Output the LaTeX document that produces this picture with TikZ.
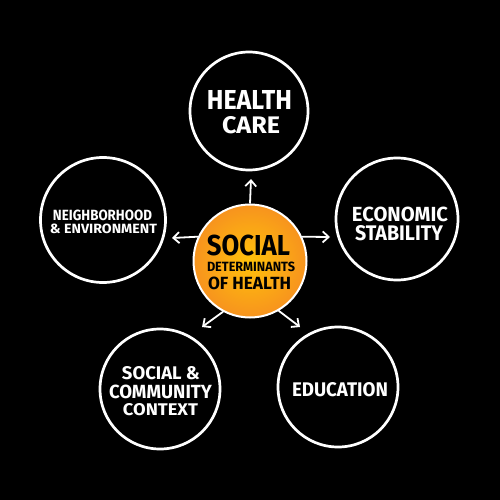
\documentclass[tikz,border=0pt]{standalone}
\usepackage{fontspec}
\setmainfont{Fira Sans}
\usepackage{graphicx}
\usetikzlibrary{arrows.meta}
\definecolor{orIn}{HTML}{FFC20A}
\definecolor{orOut}{HTML}{F7931E}
\newcommand{\fitt}[3]{\resizebox{#1pt}{#2pt}{\bfseries #3}}
\begin{document}
\begin{tikzpicture}[x=1pt,y=-1pt,
  ring/.style={circle,draw=white,line width=2.7pt,inner sep=0pt},
  hub/.style={circle,draw=white,line width=2pt,inner sep=0pt,inner color=orIn,outer color=orOut},
  wlabel/.style={inner sep=0pt,text=white},
  blabel/.style={inner sep=0pt,text=black},
  arr/.style={draw=white,line width=1.8pt,-{Straight Barb[length=6pt,width=11pt,line width=1.8pt]}}]
\fill[black] (0,0) rectangle (500,500);
\useasboundingbox (0,0) rectangle (500,500);
% circles
\node[hub,minimum size=113pt] (c) at (250,261) {};
\node[ring,minimum size=118pt] (hc) at (249,111) {};
\node[ring,minimum size=125pt] (ne) at (103,220) {};
\node[ring,minimum size=122pt] (es) at (397,219) {};
\node[ring,minimum size=120pt] (sc) at (160,389) {};
\node[ring,minimum size=120pt] (ed) at (338,387) {};
% labels
\node[wlabel] (hc1) at (249.5,99.5) {\fitt{85}{19}{HEALTH}};
\node[wlabel] (hc2) at (251,125.5) {\fitt{58}{17}{CARE}};
\node[wlabel] (ne1) at (102.5,215) {\fitt{99}{10.5}{NEIGHBORHOOD}};
\node[wlabel] (ne2) at (103.5,228.5) {\fitt{107}{9.5}{\& ENVIRONMENT}};
\node[wlabel] (es1) at (400,214) {\fitt{96}{14.5}{ECONOMIC}};
\node[wlabel] (es2) at (399,233.5) {\fitt{88}{15}{STABILITY}};
\node[blabel] (c1) at (248.5,245) {\fitt{83}{20.5}{SOCIAL}};
\node[blabel] (c2) at (251,267) {\fitt{88}{9.5}{DETERMINANTS}};
\node[blabel] (c3) at (249.5,283) {\fitt{83}{12.5}{OF HEALTH}};
\node[wlabel] (sc1) at (161,373.5) {\fitt{78}{13}{SOCIAL \&}};
\node[wlabel] (sc2) at (160.5,392) {\fitt{103}{13.5}{COMMUNITY}};
\node[wlabel] (sc3) at (160.5,409.5) {\fitt{75}{12}{CONTEXT}};
\node[wlabel] (ed1) at (340,390) {\fitt{96}{14}{EDUCATION}};
% arrow ends
\coordinate (aT) at (251,179);
\coordinate (aL) at (172,238);
\coordinate (aR) at (330,237);
\coordinate (aBL) at (202,327);
\coordinate (aBR) at (300,327);
\draw[arr] (c.90) -- (aT);
\draw[arr] (c.155) -- (aL);
\draw[arr] (c.25) -- (aR);
\draw[arr] (c.-118) -- (aBL);
\draw[arr] (c.-60) -- (aBR);
\end{tikzpicture}
\end{document}
